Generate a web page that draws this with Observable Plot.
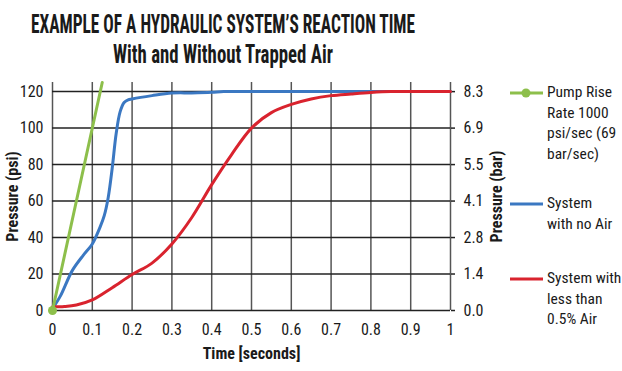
<!DOCTYPE html>
<html><head><meta charset="utf-8">
<script src="https://cdn.jsdelivr.net/npm/d3@7"></script>
<script src="https://cdn.jsdelivr.net/npm/@observablehq/plot@0.6"></script>
<style>
body{margin:0;background:#fff;font-family:"Roboto Condensed","Roboto",sans-serif;font-stretch:condensed;color:#1a1a1a;}
#wrap{position:relative;width:622px;height:371px;overflow:hidden;}
.tl{position:absolute;left:-277px;width:1000px;text-align:center;font-weight:bold;font-size:25px;line-height:29px;white-space:nowrap;transform-origin:500px 0;}
.tl span{display:inline-block;}
#chart{position:absolute;left:0;top:75px;}
#chart svg g[aria-label$="axis label"] text{font-weight:bold;}
.leg{position:absolute;left:510px;width:112px;font-size:15.5px;line-height:20.5px;}
.leg svg{position:absolute;left:0;}
.leg div{position:absolute;left:37px;white-space:nowrap;}
</style>
</head><body>
<div id="wrap">
  <div class="tl" id="tl1" style="top:10px"><span>EXAMPLE OF A HYDRAULIC SYSTEM’S REACTION TIME</span></div>
  <div class="tl" id="tl2" style="top:40px"><span>With and Without Trapped Air</span></div>
  <div id="chart"></div>
  <div id="legend"></div>
</div>
<script>
// ---- data ----
const timeTicks = [0, 0.1, 0.2, 0.3, 0.4, 0.5, 0.6, 0.7, 0.8, 0.9, 1];
const timeLabels = ["0", "0.1", "0.2", "0.3", "0.4", "0.5", "0.6", "0.7", "0.8", "0.9", "1"];
const psiTicks = [0, 20, 40, 60, 80, 100, 120];
const barLabels = ["0.0", "1.4", "2.8", "4.1", "5.5", "6.9", "8.3"];

const seriesNames = ["Pump Rise Rate 1000 psi/sec (69 bar/sec)", "System with no Air", "System with less than 0.5% Air"];
const seriesColors = ["#8dbf4b", "#3b78c2", "#d9232e"];

const pumpTime = [0, 0.125];
const pumpPsi = [0, 125];

const noAirTime = [0, 0.02, 0.05, 0.08, 0.1, 0.12, 0.13, 0.14, 0.15, 0.16, 0.17, 0.18, 0.19, 0.2, 0.25, 0.3, 0.35, 0.4, 0.43, 0.5, 1.0];
const noAirPsi  = [1, 8, 22, 31, 36.5, 46, 52, 62, 78, 97, 109, 114, 115.5, 116, 117.8, 119.2, 119.3, 119.6, 120, 120, 120];

const airTime = [0, 0.03, 0.06, 0.1, 0.15, 0.2, 0.25, 0.3, 0.35, 0.4, 0.45, 0.5, 0.55, 0.6, 0.65, 0.7, 0.75, 0.8, 0.85, 0.9, 1.0];
const airPsi  = [2, 2.2, 3, 5.8, 12.5, 19.7, 26, 36.5, 51, 69, 85.5, 100, 108.5, 113, 116, 117.8, 118.7, 119.5, 120, 120, 120];

const legendLines = [["Pump Rise", "Rate 1000", "psi/sec (69", "bar/sec)"], ["System", "with no Air"], ["System with", "less than", "0.5% Air"]];

// ---- build ----
const pump = pumpTime.map((t, i) => ({t, psi: pumpPsi[i]}));
const noAir = noAirTime.map((t, i) => ({t, psi: noAirPsi[i]}));
const air = airTime.map((t, i) => ({t, psi: airPsi[i]}));

const chart = Plot.plot({
  width: 622, height: 296,
  marginLeft: 52, marginRight: 172, marginTop: 7, marginBottom: 61,
  x: {domain: [0, 1]},
  y: {domain: [0, 125]},
  style: {fontFamily: '"Roboto Condensed","Roboto",sans-serif', fontSize: "16px", color: "#1a1a1a", background: "#fff"},
  marks: [
    Plot.ruleX(timeTicks, {stroke: "#555", strokeWidth: 1.5}),
    Plot.ruleY(psiTicks, {stroke: "#222", strokeWidth: 1.5}),
    Plot.axisX(timeTicks, {tickSize: 0, tickPadding: 13, tickFormat: (d, i) => timeLabels[i], label: "Time [seconds]", labelArrow: "none", labelAnchor: "center", labelOffset: 48}),
    Plot.axisY(psiTicks, {anchor: "left", tickSize: 0, tickPadding: 9, label: "Pressure (psi)", labelArrow: "none", labelAnchor: "center", labelOffset: 46}),
    Plot.axisY(psiTicks, {anchor: "right", tickSize: 4, strokeWidth: 1.5, stroke: "#222", tickPadding: 9, tickFormat: (d, i) => barLabels[i], label: "Pressure (bar)", labelArrow: "none", labelAnchor: "center", labelOffset: 51}),
    Plot.line(noAir, {x: "t", y: "psi", stroke: seriesColors[1], strokeWidth: 3, curve: "catmull-rom"}),
    Plot.line(air, {x: "t", y: "psi", stroke: seriesColors[2], strokeWidth: 3, curve: "catmull-rom"}),
    Plot.line(pump, {x: "t", y: "psi", stroke: seriesColors[0], strokeWidth: 3}),
    Plot.dot([pump[0]], {x: "t", y: "psi", r: 4.5, fill: seriesColors[0]})
  ]
});
document.getElementById("chart").appendChild(chart);

// condense title lines to reference widths
[["tl1", 384], ["tl2", 220]].forEach(([id, w]) => {
  const el = document.getElementById(id);
  const sw = el.querySelector("span").getBoundingClientRect().width;
  el.style.transform = `scaleX(${Math.min(1, w / sw)})`;
});

// legend
const legTops = [82, 193, 268];
const legend = document.getElementById("legend");
legendLines.forEach((lines, i) => {
  const d = document.createElement("div");
  d.className = "leg";
  d.style.top = legTops[i] + "px";
  d.setAttribute("title", seriesNames[i]);
  const dot = i === 0 ? `<circle cx="16" cy="11" r="4.5" fill="${seriesColors[i]}"/>` : "";
  d.innerHTML = `<svg width="34" height="22"><line x1="0" x2="33" y1="11" y2="11" stroke="${seriesColors[i]}" stroke-width="3"/>${dot}</svg>` +
    `<div>${lines.join("<br>")}</div>`;
  legend.appendChild(d);
});
</script>
</body></html>
